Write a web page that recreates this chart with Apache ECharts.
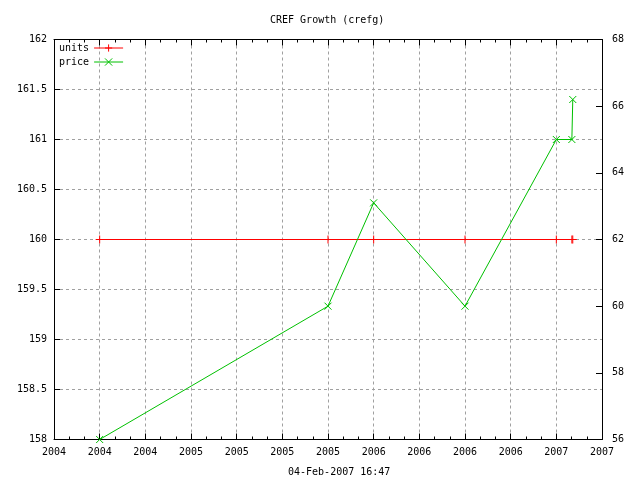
<!DOCTYPE html>
<html>
<head>
<meta charset="utf-8">
<script src="https://cdn.jsdelivr.net/npm/echarts@6/dist/echarts.min.js"></script>
<style>
  html, body { margin: 0; padding: 0; background: #fff; }
  #chart { width: 640px; height: 480px; }
</style>
</head>
<body>
<div id="chart"></div>
<script>
// dates as decimal years
var dates = [2004.5, 2005.75, 2006.0, 2006.5, 2007.0, 2007.085, 2007.09];
var units = [160, 160, 160, 160, 160, 160, 160];
var price = [56, 60, 63.1, 60, 65, 65, 66.2];

var FONT = '"DejaVu Sans Mono", monospace';

function pairs(xs, ys) {
  var out = [];
  for (var i = 0; i < xs.length; i++) out.push([xs[i], ys[i]]);
  return out;
}

var chart = echarts.init(document.getElementById('chart'));

var xCommon = {
  type: 'value',
  min: 2004.25,
  max: 2007.25,
  interval: 0.25,
  axisLine: { show: true, lineStyle: { color: '#000', width: 1 } },
  axisTick: { show: true, inside: true, length: 6, lineStyle: { color: '#000' } },
  minorTick: { show: true, splitNumber: 3, length: 3, lineStyle: { color: '#000' } }
};

var option = {
  backgroundColor: '#fff',
  animation: false,
  title: {
    text: 'CREF Growth (crefg)',
    left: 270,
    top: 15,
    padding: 0,
    textStyle: { fontFamily: FONT, fontSize: 10, fontWeight: 'normal', color: '#000' }
  },
  legend: {
    orient: 'vertical',
    left: 59,
    top: 43,
    padding: 0,
    itemGap: 4,
    itemWidth: 29,
    itemHeight: 9,
    align: 'right',
    lineStyle: { width: 1 },
    itemStyle: { borderWidth: 1 },
    textStyle: { fontFamily: FONT, fontSize: 10, color: '#000' },
    data: ['units', 'price']
  },
  grid: { left: 54, right: 38, top: 39.5, bottom: 40.5 },
  xAxis: [
    Object.assign({}, xCommon, {
      position: 'bottom',
      axisLabel: {
        margin: 8,
        fontFamily: FONT, fontSize: 10, color: '#000',
        formatter: function (v) { return String(Math.floor(v + 1e-9)); }
      },
      splitLine: { show: true, lineStyle: { color: '#a0a0a0', type: [3, 3], width: 1 } }
    }),
    Object.assign({}, xCommon, {
      position: 'top',
      axisLabel: { show: false },
      splitLine: { show: false }
    })
  ],
  yAxis: [
    {
      type: 'value',
      position: 'left',
      min: 158,
      max: 162,
      interval: 0.5,
      axisLine: { show: true, lineStyle: { color: '#000', width: 1 } },
      axisTick: { show: true, inside: true, length: 6, lineStyle: { color: '#000' } },
      axisLabel: { margin: 7, fontFamily: FONT, fontSize: 10, color: '#000' },
      splitLine: { show: true, lineStyle: { color: '#a0a0a0', type: [3, 3], width: 1 } }
    },
    {
      type: 'value',
      position: 'right',
      min: 56,
      max: 68,
      interval: 2,
      axisLine: { show: true, lineStyle: { color: '#000', width: 1 } },
      axisTick: { show: true, inside: true, length: 6, lineStyle: { color: '#000' } },
      axisLabel: { margin: 10, fontFamily: FONT, fontSize: 10, color: '#000' },
      splitLine: { show: false }
    }
  ],
  graphic: [
    {
      type: 'text',
      left: 288,
      top: 467,
      style: { text: '04-Feb-2007 16:47', fill: '#000', font: '10px ' + FONT }
    }
  ],
  series: [
    {
      name: 'units',
      type: 'line',
      xAxisIndex: 0,
      yAxisIndex: 0,
      data: pairs(dates, units),
      symbol: 'path://M5,0L5,10M0,5L10,5',
      symbolSize: 8,
      showAllSymbol: true,
      color: '#ff0000',
      lineStyle: { color: '#ff0000', width: 1 },
      itemStyle: { color: '#ff0000', borderColor: '#ff0000', borderWidth: 1 }
    },
    {
      name: 'price',
      type: 'line',
      xAxisIndex: 0,
      yAxisIndex: 1,
      data: pairs(dates, price),
      symbol: 'path://M0,0L10,10M10,0L0,10',
      symbolSize: 7,
      showAllSymbol: true,
      color: '#00c000',
      lineStyle: { color: '#00c000', width: 1 },
      itemStyle: { color: '#00c000', borderColor: '#00c000', borderWidth: 1 }
    }
  ]
};

chart.setOption(option);
</script>
</body>
</html>
